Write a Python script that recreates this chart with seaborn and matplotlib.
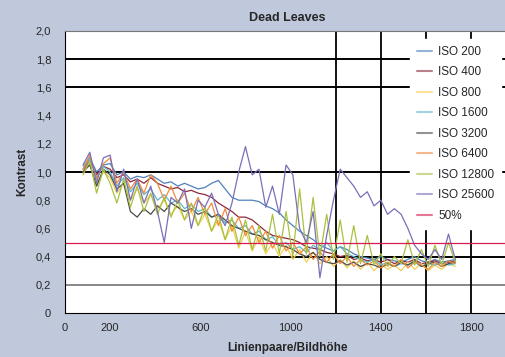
import pandas as pd
import matplotlib.pyplot as plt
import seaborn as sns

# Linienpaare/Bildhöhe
x = [80, 110, 140, 170, 200, 230, 260, 290, 320, 350, 380, 410, 440, 470,
     500, 530, 560, 590, 620, 650, 680, 710, 740, 770, 800, 830, 860, 890,
     920, 950, 980, 1010, 1040, 1070, 1100, 1130, 1160, 1190, 1220, 1250,
     1280, 1310, 1340, 1370, 1400, 1430, 1460, 1490, 1520, 1550, 1580, 1610,
     1640, 1670, 1700, 1730]

iso200 = [1.02, 1.10, 1.00, 1.05, 1.06, 0.98, 1.00, 0.95, 0.97, 0.96, 0.98, 0.95, 0.92, 0.93,
          0.90, 0.92, 0.90, 0.88, 0.89, 0.92, 0.94, 0.88, 0.82, 0.80, 0.80, 0.80, 0.79, 0.76,
          0.74, 0.71, 0.66, 0.62, 0.58, 0.55, 0.52, 0.48, 0.46, 0.44, 0.47, 0.45,
          0.42, 0.40, 0.39, 0.38, 0.40, 0.38, 0.37, 0.36, 0.38, 0.40, 0.37, 0.36,
          0.38, 0.36, 0.37, 0.38]
iso400 = [1.00, 1.08, 0.98, 1.04, 1.02, 0.96, 0.98, 0.93, 0.95, 0.92, 0.96, 0.92, 0.90, 0.88,
          0.89, 0.86, 0.87, 0.85, 0.84, 0.82, 0.78, 0.75, 0.72, 0.68, 0.68, 0.66, 0.62, 0.58,
          0.55, 0.54, 0.53, 0.52, 0.50, 0.47, 0.46, 0.45, 0.43, 0.42, 0.40, 0.41,
          0.38, 0.39, 0.37, 0.38, 0.36, 0.38, 0.35, 0.37, 0.36, 0.38, 0.35, 0.36,
          0.37, 0.35, 0.36, 0.37]
iso800 = [1.00, 1.06, 0.90, 1.00, 0.96, 0.85, 0.92, 0.80, 0.88, 0.78, 0.84, 0.74, 0.80, 0.70,
          0.76, 0.66, 0.72, 0.62, 0.70, 0.58, 0.66, 0.52, 0.62, 0.46, 0.58, 0.44, 0.54, 0.42,
          0.50, 0.40, 0.48, 0.38, 0.45, 0.36, 0.43, 0.35, 0.40, 0.33, 0.38, 0.32,
          0.37, 0.31, 0.36, 0.30, 0.35, 0.31, 0.34, 0.30, 0.36, 0.31, 0.35, 0.30,
          0.34, 0.31, 0.35, 0.33]
iso1600 = [1.04, 1.10, 0.96, 1.04, 1.00, 0.90, 0.96, 0.86, 0.92, 0.84, 0.88, 0.80, 0.84, 0.78,
           0.80, 0.74, 0.77, 0.72, 0.74, 0.68, 0.70, 0.64, 0.66, 0.60, 0.62, 0.56, 0.58, 0.52,
           0.54, 0.48, 0.50, 0.45, 0.47, 0.43, 0.48, 0.45, 0.50, 0.44, 0.47, 0.42,
           0.40, 0.38, 0.36, 0.38, 0.34, 0.36, 0.33, 0.35, 0.34, 0.36, 0.33, 0.35,
           0.34, 0.36, 0.34, 0.35]
iso3200 = [1.00, 1.05, 0.90, 1.02, 0.98, 0.88, 0.92, 0.72, 0.68, 0.74, 0.70, 0.76, 0.72, 0.78,
           0.75, 0.72, 0.74, 0.70, 0.72, 0.68, 0.70, 0.66, 0.62, 0.60, 0.58, 0.56, 0.55, 0.52,
           0.50, 0.48, 0.47, 0.45, 0.42, 0.40, 0.43, 0.38, 0.36, 0.35, 0.37, 0.34,
           0.36, 0.33, 0.35, 0.34, 0.32, 0.35, 0.33, 0.36, 0.34, 0.37, 0.33, 0.35,
           0.36, 0.33, 0.35, 0.36]
iso6400 = [1.02, 1.12, 0.95, 1.06, 1.10, 0.92, 1.00, 0.88, 0.95, 0.85, 0.98, 0.92, 0.80, 0.90,
           0.78, 0.85, 0.72, 0.82, 0.70, 0.78, 0.62, 0.74, 0.58, 0.68, 0.55, 0.62, 0.50, 0.58,
           0.46, 0.55, 0.44, 0.50, 0.42, 0.47, 0.38, 0.44, 0.36, 0.42, 0.35, 0.40,
           0.33, 0.38, 0.34, 0.37, 0.32, 0.36, 0.33, 0.38, 0.32, 0.36, 0.34, 0.31,
           0.36, 0.33, 0.37, 0.35]
iso12800 = [0.98, 1.08, 0.85, 1.02, 0.92, 0.78, 0.95, 0.75, 0.90, 0.72, 0.85, 0.70, 0.82, 0.68,
            0.80, 0.66, 0.78, 0.62, 0.75, 0.58, 0.70, 0.52, 0.68, 0.48, 0.66, 0.45, 0.62, 0.44,
            0.70, 0.42, 0.72, 0.40, 0.88, 0.42, 0.82, 0.40, 0.70, 0.38, 0.66, 0.36,
            0.62, 0.35, 0.55, 0.34, 0.42, 0.33, 0.40, 0.35, 0.52, 0.34, 0.45, 0.33,
            0.48, 0.34, 0.50, 0.36]
iso25600 = [1.05, 1.14, 0.92, 1.10, 1.12, 0.86, 1.02, 0.80, 0.95, 0.78, 0.90, 0.72, 0.50, 0.82,
            0.78, 0.88, 0.60, 0.80, 0.75, 0.85, 0.70, 0.62, 0.78, 1.00, 1.18, 0.98, 1.02, 0.75,
            0.90, 0.70, 1.05, 0.98, 0.60, 0.50, 0.72, 0.25, 0.55, 0.80, 1.02, 0.96,
            0.90, 0.82, 0.86, 0.76, 0.80, 0.70, 0.74, 0.70, 0.60, 0.48, 0.42, 0.38,
            0.45, 0.38, 0.56, 0.38]

fifty_x = [0, 2000]
fifty_y = [0.5, 0.5]

names = ["ISO 200", "ISO 400", "ISO 800", "ISO 1600", "ISO 3200",
         "ISO 6400", "ISO 12800", "ISO 25600"]
series = [iso200, iso400, iso800, iso1600, iso3200, iso6400, iso12800, iso25600]
colors = ["#4f81bd", "#8c2a3c", "#f0cf55", "#5fb8c9", "#4a4a4a",
          "#f08a3c", "#a8c240", "#7a6fb8", "#d81b50"]

rows = []
for name, vals in zip(names, series):
    for xv, yv in zip(x, vals):
        rows.append({"lp": xv, "kontrast": yv, "serie": name})
for xv, yv in zip(fifty_x, fifty_y):
    rows.append({"lp": xv, "kontrast": yv, "serie": "50%"})
df = pd.DataFrame(rows)

sns.set_style("white")
plt.rcParams["font.family"] = ["Liberation Sans", "DejaVu Sans"]

fig = plt.figure(figsize=(5.05, 3.57), dpi=100, facecolor="#c0c8dc")
ax = fig.add_axes([0.1287, 0.1232, 0.88, 0.79])
ax.set_facecolor("white")

# Gitterlinien
for yv in [1.8, 1.6, 1.0, 0.4]:
    ax.axhline(yv, color="black", lw=1.4, zorder=0)
ax.axhline(0.2, color="#888888", lw=1.4, zorder=0)
for xv in [1200, 1400, 1600, 1800]:
    ax.axvline(xv, color="black", lw=1.3, zorder=0)

sns.lineplot(
    data=df, x="lp", y="kontrast", hue="serie",
    palette=dict(zip(names + ["50%"], colors)),
    sort=False, linewidth=0.9, ax=ax,
)
# 50%-Linie etwas kräftiger
ax.lines[-1].set_linewidth(1.5)

ax.set_xlim(0, 1970)
ax.set_ylim(0, 2.0)
ax.set_xticks([0, 200, 600, 1000, 1400, 1800])
ax.set_yticks([i * 0.2 for i in range(11)])
ax.set_yticklabels(["0"] + [f"{i * 0.2:.1f}".replace(".", ",") for i in range(1, 11)])
ax.tick_params(labelsize=8, length=0)
ax.tick_params(axis="x", pad=7)
ax.tick_params(axis="y", pad=10)

ax.spines["left"].set_color("black")
ax.spines["bottom"].set_color("black")
ax.spines["top"].set_color("#777777")
ax.spines["right"].set_visible(False)

ax.set_title("Dead Leaves", fontsize=9, fontweight="bold", pad=7)
ax.set_xlabel("Linienpaare/Bildhöhe", fontsize=8.5, fontweight="bold", labelpad=7)
ax.set_ylabel("Kontrast", fontsize=8.5, fontweight="bold", labelpad=5)

leg = ax.legend(
    loc="upper right", bbox_to_anchor=(0.982, 0.972), fontsize=8.5,
    frameon=True, fancybox=False, edgecolor="white", framealpha=1,
    handlelength=1.3, handletextpad=0.5, labelspacing=0.72,
    borderpad=0.6, borderaxespad=0,
)
for h in leg.legend_handles:
    h.set_alpha(0.6)
    h.set_linewidth(1.5)

plt.savefig("out.png", dpi=100, facecolor=fig.get_facecolor())
